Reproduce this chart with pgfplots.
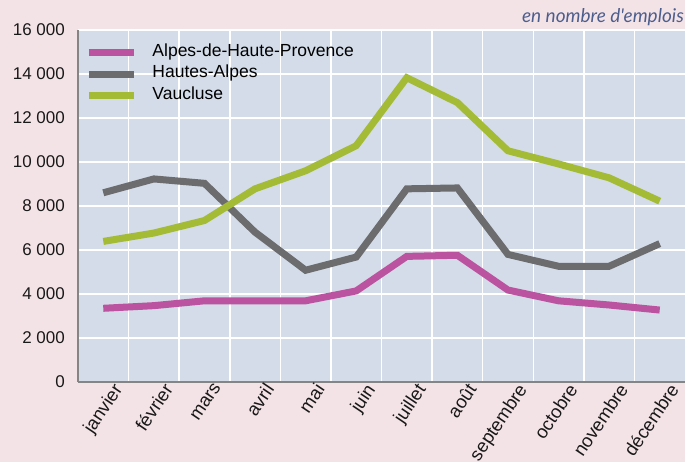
\documentclass[border=0pt]{standalone}
\usepackage{fontspec}
\setmainfont{Liberation Sans}
\newfontfamily\latof{Lato}
\usepackage{pgfplots}
\pgfplotsset{compat=1.18}
\definecolor{bgcol}{HTML}{F4E3E6}
\definecolor{plotcol}{HTML}{D3DCE8}
\definecolor{axcol}{HTML}{858585}
\definecolor{pinkc}{HTML}{BC53A0}
\definecolor{grayc}{HTML}{6C6B6E}
\definecolor{greenc}{HTML}{A4BB36}
\definecolor{bluetxt}{HTML}{4C5E8E}
\begin{document}
\begin{tikzpicture}
\useasboundingbox (0,0) rectangle (685pt,462pt);
\fill[bgcol] (0,0) rectangle (685pt,462pt);
\node[anchor=base east, text=bluetxt, inner sep=0pt, font=\latof\itshape\fontsize{19}{19}\selectfont] at (684pt,439.5pt) {en nombre d'emplois};
\begin{axis}[
  at={(78pt,80pt)}, anchor=south west,
  scale only axis, width=607pt, height=352pt,
  xmin=-0.5, xmax=11.5, ymin=0, ymax=16000,
  scaled y ticks=false,
  axis background/.style={fill=plotcol},
  axis lines*=left,
  axis line style={draw=axcol, line width=1.6pt, -},
  xtick={0,...,11},
  xticklabels={janvier,février,mars,avril,mai,juin,juillet,août,septembre,octobre,novembre,décembre},
  minor xtick={0.5,1.5,...,10.5},
  ytick={0,2000,...,16000},
  yticklabels={0,2 000,4 000,6 000,8 000,10 000,12 000,14 000,16 000},
  major tick length=0pt, minor tick length=0pt,
  ymajorgrids, xminorgrids,
  grid style={draw=white, line width=1.5pt},
  minor grid style={draw=white, line width=1.5pt},
  ticklabel style={font=\fontsize{17}{17}\selectfont, text=black!90},
  yticklabel style={inner sep=0pt, xshift=-13pt},
  xticklabel style={rotate=56, anchor=north east, inner sep=0pt, xshift=5pt, yshift=-7pt, font=\fontsize{18.5}{18.5}\selectfont},
  legend style={draw=none, fill=none, inner sep=0pt, at={(0.012,0.967)}, anchor=north west,
    font=\fontsize{17.5}{17.5}\selectfont, nodes={inner sep=0pt, text height=14.5pt, text depth=7pt},
    /tikz/every odd column/.append style={column sep=15pt}},
  legend cell align=left,
  legend image code/.code={\draw[line width=7pt] (0pt,0pt) -- (45pt,0pt);},
  every axis plot/.append style={line width=7pt},
]
\addplot[pinkc] coordinates {(0,3350)(1,3470)(2,3690)(3,3690)(4,3690)(5,4140)(6,5710)(7,5760)(8,4180)(9,3690)(10,3500)(11,3270)};
\addlegendentry{Alpes-de-Haute-Provence}
\addplot[grayc] coordinates {(0,8600)(1,9230)(2,9030)(3,6810)(4,5080)(5,5680)(6,8780)(7,8820)(8,5800)(9,5260)(10,5260)(11,6290)};
\addlegendentry{Hautes-Alpes}
\addplot[greenc] coordinates {(0,6390)(1,6770)(2,7340)(3,8780)(4,9600)(5,10740)(6,13830)(7,12700)(8,10510)(9,9910)(10,9280)(11,8220)};
\addlegendentry{Vaucluse}
\end{axis}
\end{tikzpicture}
\end{document}
